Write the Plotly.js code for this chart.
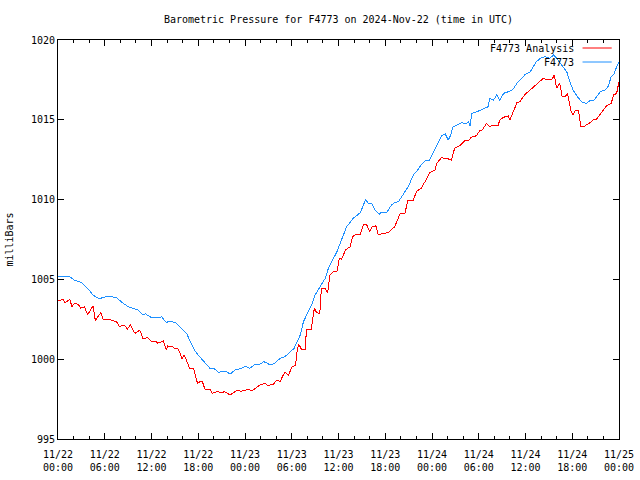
<!DOCTYPE html>
<html>
<head>
<meta charset="utf-8">
<script src="https://cdn.plot.ly/plotly-3.0.1.min.js"></script>
<style>html,body{margin:0;padding:0;background:#fff}#chart{width:640px;height:480px}
#chart .scatterlayer path{shape-rendering:crispEdges}</style>
</head>
<body>
<div id="chart"></div>
<script>
// Hours after 2024-11-22 00:00 UTC, and pressure (mb)
const obsHours = [0,1.5,2.1,3,3.8,4.5,4.9,5.3,5.8,6.4,7.5,8.1,9,9.6,10.3,10.9,11.2,12,12.8,13.3,13.9,14.3,14.7,15.2,16,16.5,16.9,17.5,17.9,18.5,18.9,19.5,20.1,20.6,21.2,21.6,22.1,22.7,23.6,24,24.6,25.3,25.9,26.4,26.8,27.2,27.8,28.5,29.1,29.8,30.3,30.6,31.1,31.5,32.1,32.6,33,33.6,34.3,34.7,35.3,35.8,36.4,37.05,37.9,38.8,39.2,39.5,39.8,40.3,40.7,41.2,41.5,42.2,42.8,43.2,43.7,44.3,45,45.6,46,46.6,47.1,47.7,48.2,48.8,49.2,49.7,50.1,50.4,50.7,51.2,51.8,52.3,52.7,52.9,53.1,53.5,54.2,54.6,55.2,55.4,55.9,56.3,56.7,57.2,57.8,58.4,58.9,59.5,59.9,60.6,61,61.4,61.9,62.5,63.1,63.6,64,64.6,65.3,65.7,66.1,66.6,67.2,67.8,68.3,68.7,69.1,69.6,70.2,70.6,71,71.4,71.7,72];
const obsValues = [1005.21,1005.17,1004.96,1004.8,1004.44,1004.02,1003.9,1003.77,1003.88,1003.92,1003.88,1003.6,1003.29,1003.19,1003.08,1002.77,1002.85,1002.6,1002.6,1002.66,1002.29,1002.39,1002.35,1002.25,1001.83,1001.62,1001.2,1000.58,1000.31,1000.0,999.74,999.43,999.39,999.16,999.26,999.22,999.07,999.32,999.43,999.57,999.43,999.68,999.68,999.84,999.78,999.64,999.74,1000.05,1000.15,1000.47,1000.68,1000.99,1001.52,1002.35,1002.98,1003.46,1004.02,1004.54,1005.07,1005.69,1006.22,1006.74,1007.5,1008.3,1008.83,1009.18,1009.66,1010.02,1009.77,1009.72,1009.35,1009.08,1009.2,1009.2,1009.66,1009.81,1009.87,1010.35,1010.85,1011.54,1011.75,1012.17,1012.42,1012.48,1013.0,1013.63,1013.98,1014.11,1013.73,1014.05,1014.57,1014.67,1014.82,1014.74,1014.88,1014.61,1015.41,1015.45,1015.61,1015.72,1015.82,1016.35,1016.24,1016.55,1016.24,1016.66,1016.76,1016.91,1017.29,1017.6,1017.81,1018.01,1018.33,1018.64,1018.85,1018.95,1018.85,1019.06,1018.85,1018.43,1018.01,1017.39,1016.87,1016.49,1016.13,1016.03,1016.2,1016.18,1016.45,1016.76,1016.87,1017.08,1017.7,1017.91,1018.33,1018.64];

const anaHours = [0,0.64,0.9,1.5,1.8,2.1,2.6,2.9,3.4,3.8,4.3,4.5,4.8,5.1,5.5,5.8,6.8,7.5,7.9,8.5,8.9,9.3,9.6,9.9,10.5,10.9,11.5,12,12.6,12.8,13.5,13.9,14.1,14.7,15,15.4,15.7,15.9,16.2,16.6,16.9,17.4,17.6,17.9,18.2,18.5,18.9,19.5,19.8,20.4,21,21.4,22.1,22.5,22.9,23.6,24.4,24.9,25.3,25.9,26.6,26.9,27.2,27.6,28.1,28.5,28.8,29.1,29.6,30,30.5,30.7,30.9,31.3,31.7,31.9,32.5,32.9,33.2,33.6,33.8,34.3,34.6,34.9,35.3,35.8,36.1,36.4,36.9,37.5,37.8,38.1,38.8,39.2,39.6,40,40.3,40.8,41.1,41.8,42.4,42.7,43.2,43.9,44.5,44.9,45.6,46,46.6,47.1,47.7,48.4,48.6,49.2,49.9,50.5,50.9,51.6,52.2,52.7,53,53.7,54.1,54.4,55,55.4,55.9,56.5,56.7,57.2,57.8,58,58.4,58.9,59.3,59.7,60.1,60.6,61.2,61.9,62.3,62.9,63.4,63.7,64,64.4,64.7,65.1,65.4,65.8,66.1,66.4,66.8,67.1,67.6,68.3,68.7,69.1,69.6,70,70.4,71,71.3,71.7,72];
const anaValues = [1003.65,1003.75,1003.54,1003.75,1003.29,1003.5,1003.44,1003.19,1003.29,1002.77,1003.19,1003.35,1002.39,1002.66,1002.91,1002.46,1002.46,1002.35,1002.04,1002.14,1001.89,1002.14,1001.83,1001.62,1001.83,1001.27,1001.35,1001.1,1001.1,1001.0,1001.14,1000.58,1000.83,1000.79,1000.64,1000.64,1000.37,1000.01,1000.26,999.74,999.43,999.43,999.01,998.49,998.59,998.63,998.07,998.11,997.86,997.96,997.92,997.96,997.76,997.92,998.02,998.0,998.11,998.02,998.17,998.38,998.49,998.34,998.38,998.42,998.69,998.59,998.9,999.18,999.01,999.49,999.64,1000.58,1000.93,1000.58,1000.58,1001.87,1001.89,1003.19,1002.91,1002.87,1004.44,1004.44,1004.13,1005.27,1005.48,1005.48,1006.32,1006.26,1006.84,1007.05,1007.68,1007.78,1007.84,1008.45,1008.45,1007.99,1008.3,1008.35,1007.78,1007.89,1007.93,1008.05,1008.3,1009.1,1009.1,1009.93,1009.97,1010.5,1010.71,1011.12,1011.69,1011.85,1012.27,1012.62,1012.58,1012.48,1013.21,1013.38,1013.69,1013.69,1013.9,1014.0,1014.3,1014.33,1014.78,1014.57,1014.67,1014.67,1014.99,1015.16,1015.24,1014.99,1015.51,1016.07,1016.13,1016.45,1016.66,1016.87,1017.08,1017.39,1017.6,1017.49,1017.54,1017.81,1016.97,1017.29,1016.45,1016.45,1016.66,1015.61,1015.3,1015.61,1015.57,1014.61,1014.61,1014.82,1014.99,1015.03,1015.36,1015.57,1015.88,1016.03,1016.55,1016.66,1017.39];

const seriesNames = ['F4773 Analysis', 'F4773'];
const titleText = 'Barometric Pressure for F4773 on 2024-Nov-22 (time in UTC)';
const yTitle = 'milliBars';

const startMs = Date.UTC(2024, 10, 22, 0, 0, 0);
const toTime = h => startMs + h * 3600000;

const FONT = 'DejaVu Sans Mono, Liberation Mono, monospace';
const red = '#ff0000', blue = '#1e90ff';

const traces = [
  {x: anaHours.map(toTime), y: anaValues, mode: 'lines', name: seriesNames[0], line: {color: red, width: 1}},
  {x: obsHours.map(toTime), y: obsValues, mode: 'lines', name: seriesNames[1], line: {color: blue, width: 1}}
];

const layout = {
  width: 640, height: 480,
  margin: {l: 58, r: 21, t: 40, b: 41},
  paper_bgcolor: '#fff', plot_bgcolor: '#fff',
  showlegend: false,
  font: {family: FONT, size: 10, color: '#000'},
  title: {text: titleText, font: {family: FONT, size: 10, color: '#000'}, x: 0.5, xref: 'paper', y: 1 - 19/480, yref: 'container', yanchor: 'middle'},
  xaxis: {
    type: 'date',
    range: [startMs, toTime(72)],
    tickmode: 'linear', tick0: startMs, dtick: 6 * 3600000,
    tickformat: '%m/%d<br>%H:%M',
    ticks: 'inside', ticklen: 6, tickcolor: '#000', tickwidth: 1,
    ticklabelstandoff: 6,
    minor: {dtick: 2 * 3600000, tick0: startMs, ticks: 'inside', ticklen: 3, tickcolor: '#000', showgrid: false},
    showline: true, linecolor: '#000', linewidth: 1, mirror: 'ticks',
    showgrid: false, zeroline: false,
    tickfont: {family: FONT, size: 10, color: '#000'}
  },
  yaxis: {
    range: [995, 1020], tickmode: 'linear', tick0: 995, dtick: 5,
    ticks: 'inside', ticklen: 6, tickcolor: '#000', tickwidth: 1,
    showline: true, linecolor: '#000', linewidth: 1, mirror: 'ticks',
    showgrid: false, zeroline: false,
    tickfont: {family: FONT, size: 10, color: '#000'},
    title: {text: yTitle, font: {family: FONT, size: 10, color: '#000'}, standoff: 15}
  },
  annotations: [
    {text: seriesNames[0], xref: 'paper', yref: 'paper', x: 0.923, y: 1 - 9/399, xanchor: 'right', yanchor: 'middle', showarrow: false, font: {family: FONT, size: 10, color: '#000'}},
    {text: seriesNames[1], xref: 'paper', yref: 'paper', x: 0.923, y: 1 - 22/399, xanchor: 'right', yanchor: 'middle', showarrow: false, font: {family: FONT, size: 10, color: '#000'}}
  ],
  shapes: [
    {type: 'line', xref: 'paper', yref: 'paper', x0: 0.935, x1: 0.987, y0: 1 - 8/399, y1: 1 - 8/399, line: {color: red, width: 1}},
    {type: 'line', xref: 'paper', yref: 'paper', x0: 0.935, x1: 0.987, y0: 1 - 22/399, y1: 1 - 22/399, line: {color: blue, width: 1}}
  ]
};

Plotly.newPlot('chart', traces, layout, {displayModeBar: false, staticPlot: true});
</script>
</body>
</html>
